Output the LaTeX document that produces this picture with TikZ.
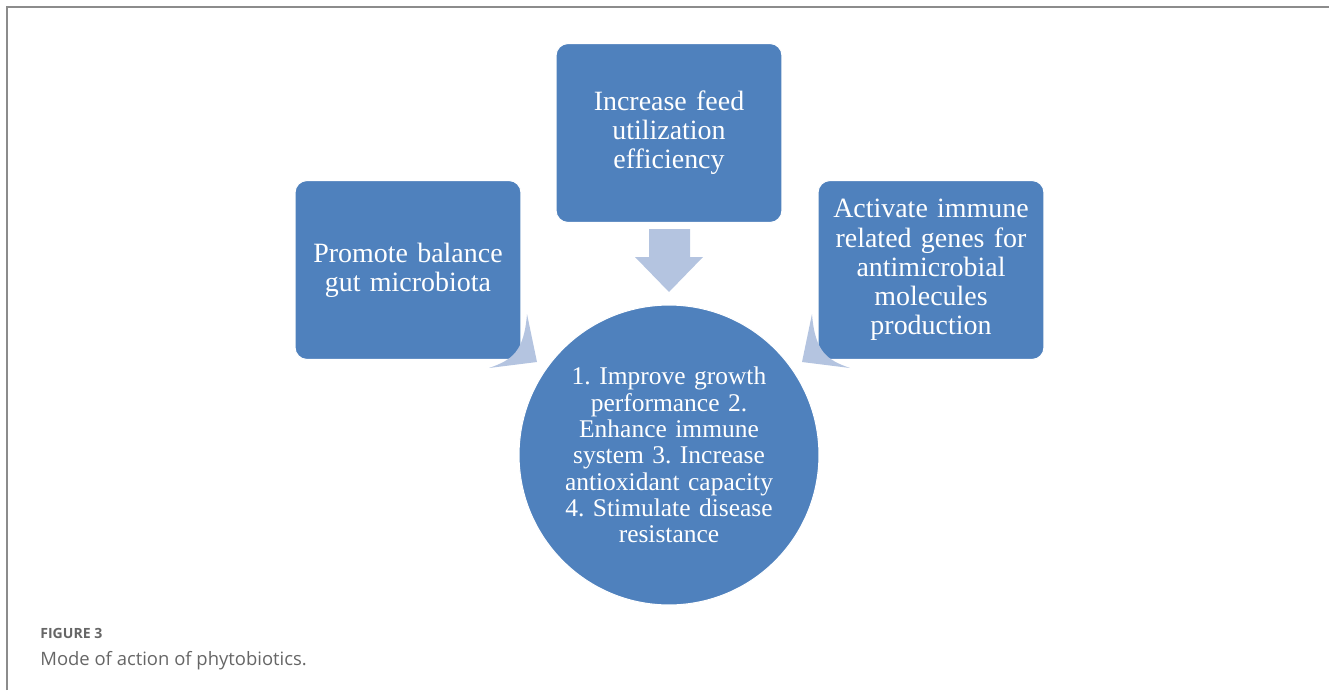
\documentclass[tikz,border=0pt]{standalone}
\usepackage{fontspec}
\setmainfont{Liberation Serif}
\newfontfamily\capfont{Open Sans}
\usetikzlibrary{positioning}
\frenchspacing
\definecolor{boxblue}{HTML}{4F81BD}
\definecolor{arrowblue}{HTML}{B4C4E0}
\definecolor{framegray}{HTML}{8C8C8C}
\definecolor{capgray}{HTML}{666666}
\tikzset{
  effectbox/.style={draw=white, line width=0.6pt, fill=boxblue, rounded corners=0.24cm,
    minimum width=4.52cm, minimum height=3.58cm, text width=4.1cm, align=center,
    text=white, font=\fontsize{15.9}{16.6}\selectfont},
  outcome/.style={circle, draw=white, line width=0.6pt, fill=boxblue, minimum size=6cm,
    inner sep=0pt, text width=4.3cm, align=center, text=white, font=\fontsize{14.5}{15}\selectfont},
  flowarrow/.style={fill=arrowblue, draw=none}
}
\begin{document}
\begin{tikzpicture}[x=0.02cm, y=-0.02cm]
\useasboundingbox (0,0) rectangle (1329,690);
% frame
\draw[framegray, line width=1.2pt] (7,690) -- (7,7) -- (1329,7);

% the three boxes
\node[effectbox] (feed) at (669,133) {Increase feed\\utilization\\efficiency};
\node[effectbox] (gut) at (408,270) {Promote balance\\gut microbiota};
\node[effectbox] (immune) at (931,270) {Activate immune\\related genes for\\antimicrobial\\molecules\\production};

% centre circle
\node[outcome] (result) at (669,455) {1. Improve growth\\performance 2.\\Enhance immune\\system 3. Increase\\antioxidant capacity\\4. Stimulate disease\\resistance};

% down arrow
\fill[flowarrow] (649,229) -- (690,229) -- (690,257) -- (703,257) -- (669,292)
  -- (635,257) -- (649,257) -- cycle;
% curved arrows
\fill[flowarrow] (527,314) -- (537,362) -- (489,368)
  .. controls (512,360) and (524,352) .. cycle;
\fill[flowarrow] (812,314) -- (802,362) -- (850,368)
  .. controls (827,360) and (815,352) .. cycle;

% caption
\node[anchor=base west, inner sep=0pt, text=capgray, font=\capfont\bfseries\fontsize{8}{10}\selectfont] (figno) at (40,638) {FIGURE 3};
\node[anchor=base west, inner sep=0pt, text=capgray, font=\capfont\fontsize{10.5}{12}\selectfont] (caption) at (40,665) {Mode of action of phytobiotics.};
\end{tikzpicture}
\end{document}
